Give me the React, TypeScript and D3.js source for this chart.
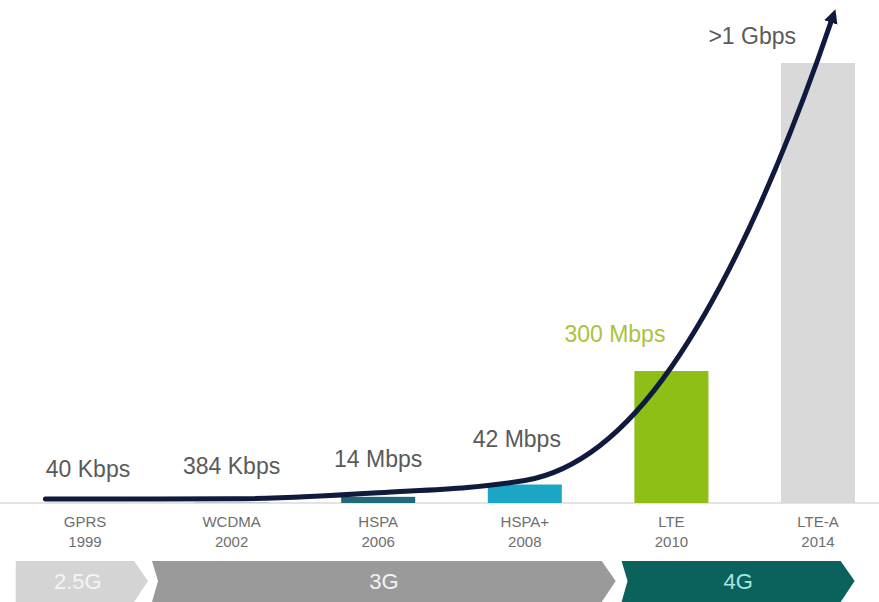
import React, { useEffect, useRef } from "react";
import * as d3 from "d3";

// technologies along the x axis
const techNames = ["GPRS", "WCDMA", "HSPA", "HSPA+", "LTE", "LTE-A"];
const techYears = ["1999", "2002", "2006", "2008", "2010", "2014"];
// peak speed in Mbps
const peakSpeeds = [0.04, 0.384, 14, 42, 300, 1000];
const speedLabels = ["40 Kbps", "384 Kbps", "14 Mbps", "42 Mbps", "300 Mbps", ">1 Gbps"];
const barColors = ["#1d4e63", "#1d4e63", "#22687c", "#1aa6c4", "#8dbf16", "#d9d9d9"];
// trend line, index along the axis and speed
const trendIndex = [-0.27, 0, 1, 2, 3, 4, 5, 5.1];
const trendSpeed = [0.04, 0.04, 0.384, 14, 42, 300, 1000, 1095];
// generation bands, start and end along the axis index
const generations = ["2.5G", "3G", "4G"];
const genStart = [-0.5, 0.457, 3.66];
const genEnd = [0.43, 3.62, 5.25];
const genColors = ["#d4d4d4", "#9a9a9a", "#0b625c"];
const genText = ["#f4f4f4", "#f2f2f2", "#a8e4e2"];

const W = 879;
const H = 602;

const App = () => {
  const ref = useRef<SVGSVGElement>(null);

  useEffect(() => {
    document.body.style.margin = "0";
    const svg = d3.select(ref.current);
    svg.selectAll("*").remove();

    const x = d3.scaleLinear().domain([0, 5]).range([85, 818]);
    const y = d3.scaleLinear().domain([0, 1000]).range([503, 63]);
    const barW = 74;
    const font = "'Liberation Sans', Arial, sans-serif";

    svg
      .append("defs")
      .append("marker")
      .attr("id", "arrow")
      .attr("viewBox", "0 0 10 10")
      .attr("refX", 4)
      .attr("refY", 5)
      .attr("markerWidth", 2.8)
      .attr("markerHeight", 2.8)
      .attr("orient", "auto")
      .append("path")
      .attr("d", "M0,0 L10,5 L0,10 Z")
      .attr("fill", "#101a3c");

    // baseline
    svg
      .append("line")
      .attr("x1", 0)
      .attr("x2", W)
      .attr("y1", y(0))
      .attr("y2", y(0))
      .attr("stroke", "#e3e3e3")
      .attr("stroke-width", 2);

    // bars
    svg
      .selectAll("rect.bar")
      .data(peakSpeeds)
      .enter()
      .append("rect")
      .attr("class", "bar")
      .attr("x", (_d, i) => x(i) - barW / 2)
      .attr("width", barW)
      .attr("y", (d) => y(d))
      .attr("height", (d) => y(0) - y(d))
      .attr("fill", (_d, i) => barColors[i]);

    // trend line
    const pts: [number, number][] = trendIndex.map((t, i) => [x(t), y(trendSpeed[i]) - 4]);
    const line = d3.line().curve(d3.curveMonotoneX);
    svg
      .append("path")
      .attr("d", line(pts))
      .attr("fill", "none")
      .attr("stroke", "#101a3c")
      .attr("stroke-width", 5)
      .attr("stroke-linecap", "round")
      .attr("marker-end", "url(#arrow)");

    // speed labels
    const labelOffset = [26, 29, 30, 38, 29, 19];
    svg
      .selectAll("text.speed")
      .data(speedLabels)
      .enter()
      .append("text")
      .attr("class", "speed")
      .attr("x", (_d, i) => (i < 4 ? x(i) + (i === 0 ? 3 : i === 3 ? -8 : 0) : x(i) - (i === 4 ? 6 : 22)))
      .attr("y", (_d, i) => y(peakSpeeds[i]) - labelOffset[i])
      .attr("text-anchor", (_d, i) => (i < 4 ? "middle" : "end"))
      .attr("font-family", font)
      .attr("font-size", 23)
      .attr("fill", (_d, i) => (i === 4 ? "#a9c23f" : "#5a5a5a"))
      .text((d) => d);

    // category labels
    const cat = svg
      .selectAll("g.cat")
      .data(techNames)
      .enter()
      .append("g")
      .attr("class", "cat")
      .attr("transform", (_d, i) => `translate(${x(i)},0)`);
    cat
      .append("text")
      .attr("y", 527)
      .attr("text-anchor", "middle")
      .attr("font-family", font)
      .attr("font-size", 15)
      .attr("fill", "#6e6e6e")
      .text((d) => d);
    cat
      .append("text")
      .attr("y", 547)
      .attr("text-anchor", "middle")
      .attr("font-family", font)
      .attr("font-size", 15)
      .attr("fill", "#6e6e6e")
      .text((_d, i) => techYears[i]);

    // generation chevrons
    const bandTop = 561;
    const bandBot = 602;
    const tip = 14;
    const mid = 581;
    const g = svg
      .selectAll("g.gen")
      .data(generations)
      .enter()
      .append("g")
      .attr("class", "gen");
    g.append("path")
      .attr("d", (_d, i) => {
        const x0 = x(genStart[i]) + (i === 0 ? 4 : 0);
        const x1 = x(genEnd[i]) - tip;
        const notch = i === 0 ? 0 : 6;
        return `M${x0},${bandTop} L${x1},${bandTop} L${x1 + tip},${mid} L${x1},${bandBot} L${x0},${bandBot} L${x0 + notch},${mid} Z`;
      })
      .attr("fill", (_d, i) => genColors[i]);
    g.append("text")
      .attr("x", (_d, i) => (x(genStart[i]) + x(genEnd[i])) / 2 - (i === 0 ? 2 : 0))
      .attr("y", mid + 8)
      .attr("text-anchor", "middle")
      .attr("font-family", font)
      .attr("font-size", 22)
      .attr("fill", (_d, i) => genText[i])
      .text((d) => d);
  }, []);

  return <svg ref={ref} width={W} height={H} style={{ display: "block", background: "#fff" }} />;
};

export default App;
